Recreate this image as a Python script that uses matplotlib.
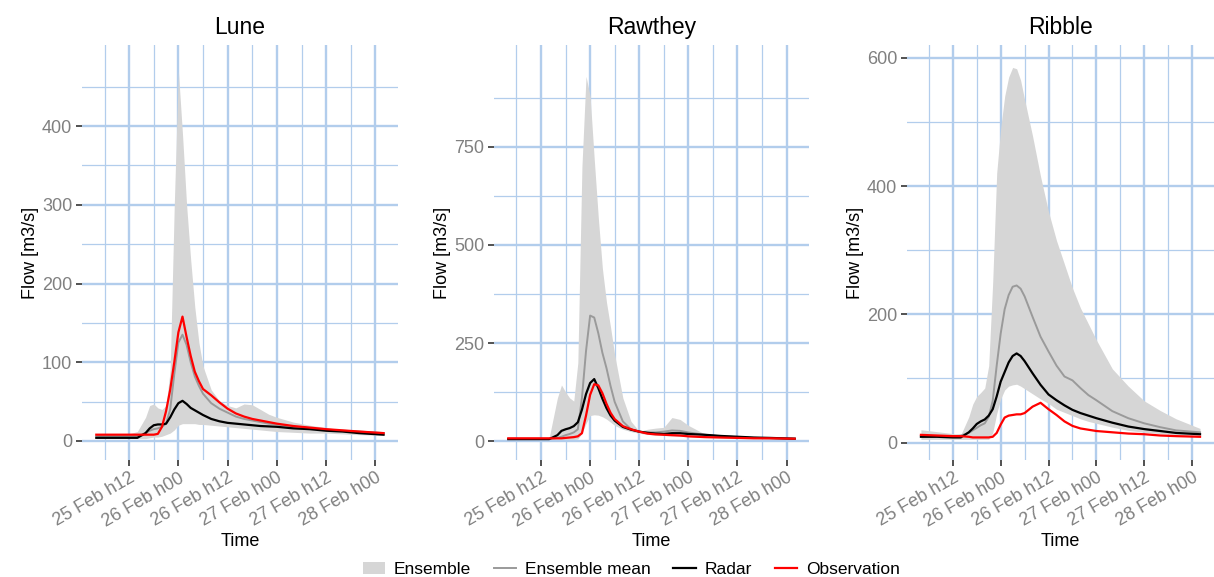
import matplotlib
matplotlib.use("Agg")
import matplotlib.pyplot as plt
from matplotlib.lines import Line2D
from matplotlib.patches import Patch
from matplotlib.ticker import FixedLocator

plt.rcParams['font.family'] = ['Liberation Sans', 'DejaVu Sans']

# hours after 25 Feb 00:00
hours = [4, 8, 12, 14, 16, 17, 18, 19, 20, 21, 22, 23, 24, 25, 26, 27, 28, 29, 30,
         32, 34, 36, 38, 40, 42, 44, 46, 48, 52, 56, 60, 64, 68, 74]

tick_hours = [12, 24, 36, 48, 60, 72]
tick_labels = ['25 Feb h12', '26 Feb h00', '26 Feb h12', '27 Feb h00', '27 Feb h12', '28 Feb h00']

rivers = ['Lune', 'Rawthey', 'Ribble']

lune_lo = [3, 3, 3, 3, 3, 4, 5, 5, 6, 8, 10, 14, 20, 22, 22, 22, 22, 21, 21,
           20, 19, 18, 17, 16, 15, 14, 13, 12, 11, 10, 10, 9, 8, 7]
lune_hi = [9, 9, 9, 12, 30, 45, 47, 42, 40, 45, 90, 300, 470, 390, 300, 230, 170, 125, 95,
           65, 51, 45, 42, 47, 46, 40, 34, 30, 24, 20, 17, 14, 12, 9]
lune_mean = [6, 6, 6, 6, 10, 13, 15, 16, 18, 22, 40, 85, 125, 135, 122, 100, 82, 70, 60,
             48, 41, 36, 31, 28, 26, 24, 22, 21, 18, 16, 14, 13, 12, 10]
lune_radar = [4, 4, 4, 4, 10, 16, 20, 21, 21, 22, 30, 40, 48, 51, 47, 42, 39, 36, 33,
              28, 25, 23, 22, 21, 20, 19, 18.5, 18, 16, 15, 13, 12, 10, 8]
lune_obs = [8, 8, 8, 8, 8, 8, 8, 9, 18, 38, 65, 100, 138, 158, 132, 108, 88, 76, 66,
            58, 49, 41, 35, 31, 28, 26, 24, 22, 19, 17, 15, 13.5, 12, 10]

rawthey_lo = [4, 4, 4, 4, 4, 4, 4, 4, 4, 5, 20, 45, 65, 67, 66, 62, 56, 48, 40,
              30, 24, 20, 17, 15, 14, 13, 12, 11, 9, 8, 7, 6, 5, 5]
rawthey_hi = [8, 8, 8, 9, 110, 143, 125, 110, 102, 200, 700, 930, 880, 720, 570, 440, 354, 290, 220,
              110, 50, 25, 30, 33, 35, 60, 55, 40, 18, 12, 10, 9, 8, 7]
rawthey_mean = [5, 5, 5, 5, 8, 11, 15, 18, 22, 30, 110, 230, 320, 315, 275, 225, 186, 140, 100,
                50, 30, 24, 22, 22, 24, 27, 26, 22, 16, 12, 10, 8, 7, 6]
rawthey_radar = [5, 5, 5, 5, 15, 26, 30, 33, 38, 48, 80, 120, 148, 158, 135, 108, 84, 65, 52,
                 36, 29, 24, 21, 19, 18, 20, 20, 18, 16, 13, 11, 9, 8, 6]
rawthey_obs = [7, 7, 7, 7, 7, 7, 8, 9, 10, 12, 20, 65, 118, 145, 142, 122, 95, 72, 56,
               38, 30, 24, 19, 17, 16, 15, 14, 12, 10, 9, 8, 7, 7, 6]

ribble_lo = [5, 5, 5, 5, 5, 5, 5, 5, 5, 5, 15, 45, 68, 82, 88, 90, 91, 88, 84,
             76, 68, 61, 52, 47, 42, 37, 33, 30, 24, 19, 16, 14, 12, 11]
ribble_hi = [20, 17, 14, 12, 40, 60, 72, 78, 85, 120, 250, 420, 490, 540, 570, 585, 583, 565, 535,
             478, 415, 360, 315, 278, 241, 210, 185, 160, 115, 88, 65, 50, 37, 22]
ribble_mean = [10, 10, 10, 11, 15, 19, 23, 27, 30, 40, 65, 120, 170, 208, 230, 243, 245, 240, 228,
               196, 165, 142, 120, 103, 97, 85, 74, 66, 49, 38, 30, 24, 19, 16]
ribble_radar = [9, 9, 8, 8, 16, 22, 29, 33, 36, 42, 52, 72, 95, 110, 125, 135, 139, 135, 127,
                108, 90, 75, 66, 58, 51, 46, 42, 38, 31, 25, 21, 18, 15, 13]
ribble_obs = [12, 11, 10, 10, 9, 8, 8, 8, 8, 8, 9, 15, 28, 39, 42, 43, 44, 44, 46,
              56, 62, 52, 43, 33, 26, 22, 20, 18, 16, 14, 13, 11, 10, 9]

series = {
    'Lune': (lune_lo, lune_hi, lune_mean, lune_radar, lune_obs),
    'Rawthey': (rawthey_lo, rawthey_hi, rawthey_mean, rawthey_radar, rawthey_obs),
    'Ribble': (ribble_lo, ribble_hi, ribble_mean, ribble_radar, ribble_obs),
}

y_major = {'Lune': [0, 100, 200, 300, 400],
           'Rawthey': [0, 250, 500, 750],
           'Ribble': [0, 200, 400, 600]}
y_minor = {'Lune': [50, 150, 250, 350, 450],
           'Rawthey': [125, 375, 625, 875],
           'Ribble': [100, 300, 500]}
y_lims = {'Lune': (-24, 503), 'Rawthey': (-48, 1010), 'Ribble': (-27, 620)}

# axes boxes in figure fractions (left, bottom, width, height)
boxes = {'Lune': (0.0675, 0.203, 0.2603, 0.719),
         'Rawthey': (0.4069, 0.203, 0.2595, 0.719),
         'Ribble': (0.7471, 0.203, 0.2529, 0.719)}

ens_col = '#D6D6D6'
mean_col = '#9A9A9A'
grid_col = '#B2CDEC'
txt_gray = '#808080'

fig = plt.figure(figsize=(12.14, 5.77), dpi=100)

for river in rivers:
    lo, hi, mean, radar, obs = series[river]
    ax = fig.add_axes(boxes[river])
    ax.fill_between(hours, lo, hi, color=ens_col, lw=0, zorder=2)
    ax.plot(hours, mean, color=mean_col, lw=1.4, zorder=3)
    ax.plot(hours, radar, color='black', lw=1.6, zorder=4)
    ax.plot(hours, obs, color='red', lw=1.6, zorder=5)

    ax.set_xlim(0.5, 77.5)
    ax.set_ylim(*y_lims[river])
    ax.xaxis.set_major_locator(FixedLocator(tick_hours))
    ax.xaxis.set_minor_locator(FixedLocator([6, 18, 30, 42, 54, 66]))
    ax.set_xticklabels(tick_labels, rotation=30, ha='right', rotation_mode='anchor')
    ax.yaxis.set_major_locator(FixedLocator(y_major[river]))
    ax.yaxis.set_minor_locator(FixedLocator(y_minor[river]))

    ax.grid(which='major', color=grid_col, lw=1.7, zorder=0)
    ax.grid(which='minor', color=grid_col, lw=0.9, zorder=0)
    ax.set_axisbelow(True)
    for s in ax.spines.values():
        s.set_visible(False)

    ax.tick_params(which='major', length=4, width=1.2, color='#333333',
                   labelsize=13, labelcolor=txt_gray, pad=3)
    ax.tick_params(which='minor', length=0)
    ax.set_title(river, fontsize=16.5, pad=8)
    ax.set_xlabel('Time', fontsize=13, labelpad=2)
    ax.set_ylabel('Flow [m3/s]', fontsize=13, labelpad=2)

handles = [Patch(facecolor=ens_col, edgecolor='none'),
           Line2D([], [], color=mean_col, lw=1.4),
           Line2D([], [], color='black', lw=1.6),
           Line2D([], [], color='red', lw=1.6)]
fig.legend(handles, ['Ensemble', 'Ensemble mean', 'Radar', 'Observation'],
           loc='center', bbox_to_anchor=(0.52, 0.013), ncol=4, frameon=False,
           fontsize=12.5, handlelength=1.3, handletextpad=0.5, columnspacing=1.3)

fig.savefig('out.png', dpi=100)
